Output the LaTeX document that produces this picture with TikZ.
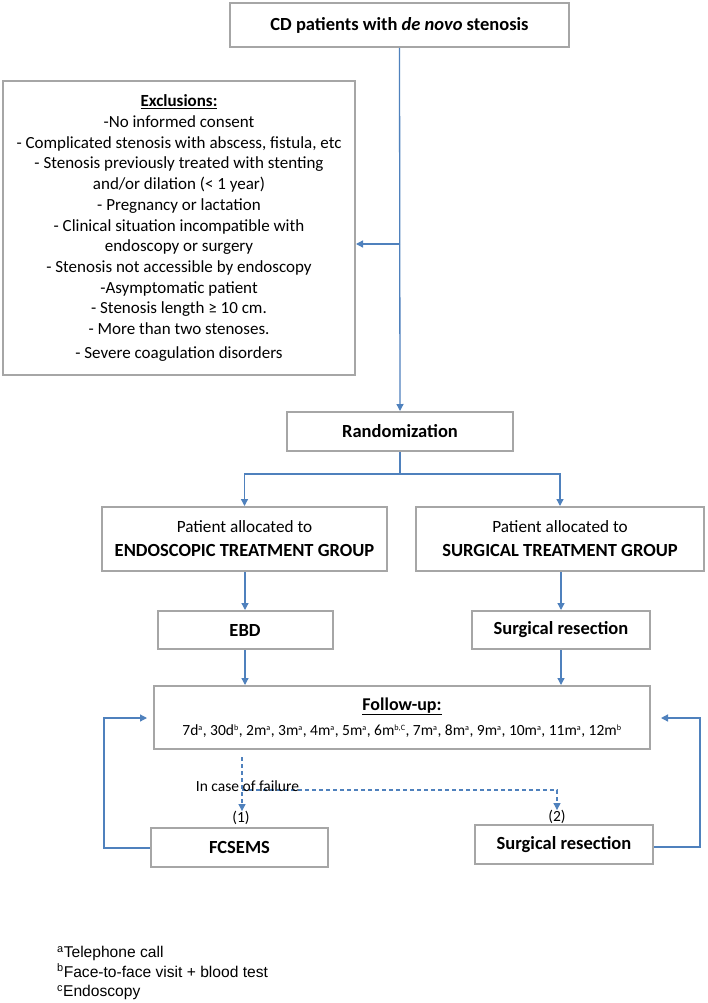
\documentclass[tikz,border=0pt]{standalone}
\usepackage{fontspec}
\setmainfont{Carlito}
\newfontfamily\legfont{Liberation Sans}
\usetikzlibrary{arrows.meta,calc}
\definecolor{boxgray}{RGB}{166,166,166}
\definecolor{lineblue}{RGB}{79,129,189}
\newcommand{\sps}[1]{\textsuperscript{\scalebox{0.75}{#1}}}
\tikzset{
  box/.style={draw=boxgray, line width=2pt, fill=white, align=center, inner sep=0pt},
  bigb/.style={font=\fontsize{18.5}{22}\selectfont\bfseries},
  conn/.style={draw=lineblue, line width=1.3pt, -{Triangle[width=7pt,length=7pt]}},
  plain/.style={draw=lineblue, line width=1.3pt},
  dconn/.style={draw=lineblue, line width=1.1pt, dash pattern=on 4pt off 3pt, -{Triangle[width=7pt,length=7pt]}},
}
\begin{document}
\begin{tikzpicture}[x=1pt,y=-1pt]
\useasboundingbox (0,0) rectangle (708,1003);
\fill[white] (0,0) rectangle (708,1003);

\node[box, bigb, minimum width=339pt, minimum height=44pt] (top) at (399.5,25) {CD patients with \textit{de novo} stenosis};

\node[box, minimum width=352pt, minimum height=294pt, font=\fontsize{17}{20.7}\selectfont] (excl) at (179,228) {%
\textbf{\underline{Exclusions:}}\\
-No informed consent\\
- Complicated stenosis with abscess, fistula, etc\\
- Stenosis previously treated with stenting\\
and/or dilation (< 1 year)\\
- Pregnancy or lactation\\
- Clinical situation incompatible with\\
endoscopy or surgery\\
- Stenosis not accessible by endoscopy\\
-Asymptomatic patient\\
- Stenosis length ≥ 10 cm.\\
- More than two stenoses.\\[3pt]
- Severe coagulation disorders};

\node[box, bigb, minimum width=226pt, minimum height=39pt] (rand) at (400,431.5) {Randomization};

\node[box, minimum width=285pt, minimum height=64pt, font=\fontsize{17.2}{24}\selectfont] (endo) at (244.5,539) {Patient allocated to\\ \textbf{\fontsize{18.5}{24}\selectfont ENDOSCOPIC TREATMENT GROUP}};
\node[box, minimum width=288pt, minimum height=64pt, font=\fontsize{17.2}{24}\selectfont] (surg) at (560,539) {Patient allocated to\\ \textbf{\fontsize{18.5}{24}\selectfont SURGICAL TREATMENT GROUP}};

\node[box, bigb, minimum width=175pt, minimum height=38pt] (ebd) at (245,630) {EBD};
\node[box, bigb, minimum width=178pt, minimum height=38pt] (sres) at (561,630) {Surgical resection};

\node[box, minimum width=496pt, minimum height=63pt, font=\fontsize{15.5}{25}\selectfont] (fu) at (402,717.5) {%
\textbf{\fontsize{18}{25}\selectfont\underline{Follow-up:}}\\
7d\sps{a}, 30d\sps{b}, 2m\sps{a}, 3m\sps{a}, 4m\sps{a}, 5m\sps{a}, 6m\sps{b,C}, 7m\sps{a}, 8m\sps{a}, 9m\sps{a}, 10m\sps{a}, 11m\sps{a}, 12m\sps{b}};

\node[box, bigb, minimum width=177pt, minimum height=39pt] (fcsems) at (239.5,847.5) {FCSEMS};
\node[box, bigb, minimum width=178pt, minimum height=39pt] (sres2) at (564,844.5) {Surgical resection};

\node[font=\fontsize{15.5}{16}\selectfont, inner sep=0pt] (lab1) at (241,818) {(1)};
\node[font=\fontsize{15.5}{16}\selectfont, inner sep=0pt] (lab2) at (557,817) {(2)};

% connectors
\coordinate (j1) at (400,244);
\coordinate (j2) at (400,474);
\draw[conn] (top.south) -- (rand.north);
\draw[conn] (j1) -- (excl.east |- j1);
\draw[plain] (rand.south) -- (j2);
\draw[conn] (j2) -| (endo.north);
\draw[conn] (j2) -| (surg.north);
\draw[conn] (endo.south -| ebd.north) -- (ebd.north);
\draw[conn] (surg.south -| sres.north) -- (sres.north);
\draw[conn] (ebd.south) -- (ebd.south |- fu.north);
\draw[conn] (sres.south) -- (sres.south |- fu.north);

% failure branch
\coordinate (d0) at (242,757);
\coordinate (d1) at (242,790);
\draw[dconn] (d0) -- (d0 |- lab1.north);
\draw[dconn] (d1) -| (lab2.north);
\node[font=\fontsize{15.5}{16}\selectfont, inner sep=1pt, anchor=base] (fail) at (247.5,791) {In case of failure};

% feedback loops
\coordinate (l1) at (104,848);
\coordinate (r1) at (700,847);
\draw[conn, shorten >=6pt] (fcsems.west |- l1) -- (l1) |- (fu.west |- 0,718);
\draw[conn, shorten >=10pt] (sres2.east |- r1) -- (r1) |- (fu.east |- 0,718);

% legend
\node[anchor=north west, align=left, inner sep=0pt, font=\legfont\fontsize{15.6}{19.5}\selectfont] (leg) at (57,946) {%
\textsuperscript{a}Telephone call\\
\textsuperscript{b}Face-to-face visit + blood test\\
\textsuperscript{c}Endoscopy};
\end{tikzpicture}
\end{document}
